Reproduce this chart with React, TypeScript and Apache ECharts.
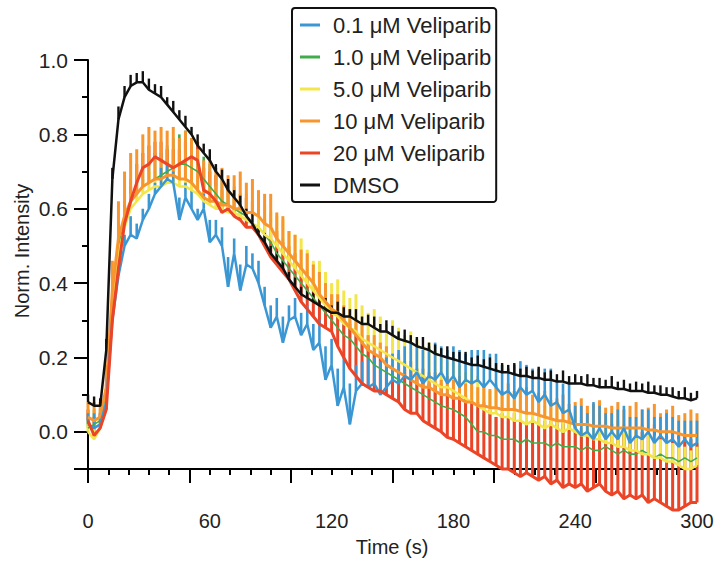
import React, { useEffect, useRef } from "react";
import * as echarts from "echarts";

const FONT = "'Liberation Sans', Arial, Helvetica, sans-serif";

// Time (s)
const times = [
  0, 3, 6, 9, 12, 15, 18, 21, 24, 27, 30, 33, 36, 39, 42, 45, 48, 51, 54, 57,
  60, 63, 66, 69, 72, 75, 78, 81, 84, 87, 90, 93, 96, 99, 102, 105, 108, 111, 114, 117,
  120, 123, 126, 129, 132, 135, 138, 141, 144, 147, 150, 153, 156, 159, 162, 165, 168, 171, 174, 177,
  180, 183, 186, 189, 192, 195, 198, 201, 204, 207, 210, 213, 216, 219, 222, 225, 228, 231, 234, 237,
  240, 243, 246, 249, 252, 255, 258, 261, 264, 267, 270, 273, 276, 279, 282, 285, 288, 291, 294, 297, 300,
];

const xTickMajor = [0, 50, 100, 150, 200, 250, 300];
const xTickMinor = [10, 20, 30, 40, 60, 70, 80, 90, 110, 120, 130, 140, 160, 170, 180, 190, 210, 220, 230, 240, 260, 270, 280, 290];
const xLabels = [0, 60, 120, 180, 240, 300];
const yTickMajor = [-0.1, 0, 0.2, 0.4, 0.6, 0.8, 1.0];
const yTickMinor = [0.1, 0.3, 0.5, 0.7, 0.9];
const yLabels = [0, 0.2, 0.4, 0.6, 0.8, 1.0];

const names = ["0.1 \u03bcM Veliparib", "1.0 \u03bcM Veliparib", "5.0 \u03bcM Veliparib", "10 \u03bcM Veliparib", "20 \u03bcM Veliparib", "DMSO"];

const blue = [
  0.02, 0.01, 0.02, 0.08, 0.30, 0.42, 0.50, 0.53, 0.52, 0.57,
  0.60, 0.64, 0.66, 0.68, 0.67, 0.57, 0.63, 0.60, 0.57, 0.60,
  0.51, 0.53, 0.50, 0.39, 0.48, 0.38, 0.45, 0.44, 0.40, 0.34,
  0.28, 0.31, 0.24, 0.30, 0.31, 0.26, 0.29, 0.22, 0.24, 0.14,
  0.18, 0.07, 0.12, 0.02, 0.11, 0.13, 0.12, 0.13, 0.10, 0.12,
  0.14, 0.13, 0.15, 0.14, 0.16, 0.13, 0.15, 0.14, 0.16, 0.13,
  0.15, 0.12, 0.14, 0.13, 0.14, 0.12, 0.14, 0.12, 0.10, 0.11,
  0.09, 0.12, 0.10, 0.11, 0.08, 0.10, 0.07, 0.08, 0.05, 0.06,
  0.01, -0.01, 0.00, -0.02, 0.01, -0.02, 0.00, -0.02, 0.01, -0.03,
  -0.01, -0.02, 0.00, -0.03, -0.01, -0.03, -0.02, -0.04, -0.02, -0.04,
  -0.03,
];
const blueErr = [
  0.03, 0.04, 0.03, 0.04, 0.05, 0.04, 0.03, 0.05, 0.04, 0.03,
  0.04, 0.03, 0.05, 0.04, 0.03, 0.06, 0.04, 0.05, 0.03, 0.04,
  0.06, 0.04, 0.05, 0.08, 0.04, 0.07, 0.05, 0.04, 0.06, 0.05,
  0.06, 0.05, 0.07, 0.04, 0.05, 0.06, 0.05, 0.07, 0.06, 0.09,
  0.07, 0.10, 0.08, 0.11, 0.07, 0.06, 0.08, 0.07, 0.09, 0.08,
  0.07, 0.09, 0.08, 0.10, 0.07, 0.09, 0.08, 0.10, 0.07, 0.09,
  0.08, 0.10, 0.07, 0.09, 0.08, 0.10, 0.07, 0.09, 0.08, 0.06,
  0.09, 0.07, 0.08, 0.06, 0.09, 0.07, 0.10, 0.06, 0.08, 0.07,
  0.06, 0.08, 0.05, 0.10, 0.06, 0.07, 0.05, 0.08, 0.06, 0.07,
  0.05, 0.08, 0.06, 0.07, 0.05, 0.08, 0.06, 0.07, 0.05, 0.07,
  0.06,
];

const green = [
  0.01, 0.02, 0.03, 0.10, 0.35, 0.50, 0.57, 0.62, 0.64, 0.66,
  0.67, 0.68, 0.69, 0.70, 0.71, 0.72, 0.72, 0.71, 0.70, 0.68,
  0.66, 0.64, 0.62, 0.61, 0.60, 0.59, 0.58, 0.56, 0.55, 0.53,
  0.51, 0.48, 0.46, 0.44, 0.42, 0.40, 0.38, 0.36, 0.34, 0.32,
  0.30, 0.28, 0.26, 0.25, 0.23, 0.21, 0.20, 0.18, 0.17, 0.16,
  0.15, 0.14, 0.13, 0.12, 0.11, 0.10, 0.09, 0.08, 0.07, 0.065,
  0.06, 0.05, 0.04, 0.02, 0.00, 0.00, -0.01, -0.01, -0.02, -0.02,
  -0.02, -0.03, -0.02, -0.03, -0.03, -0.03, -0.04, -0.03, -0.04, -0.04,
  -0.04, -0.05, -0.04, -0.05, -0.05, -0.04, -0.05, -0.06, -0.05, -0.06,
  -0.06, -0.05, -0.06, -0.07, -0.06, -0.07, -0.07, -0.08, -0.07, -0.08,
  -0.07,
];
const greenErr = [
  0.03, 0.04, 0.03, 0.05, 0.05, 0.06, 0.05, 0.06, 0.05, 0.06,
  0.06, 0.07, 0.06, 0.07, 0.08, 0.08, 0.09, 0.08, 0.07, 0.06,
  0.06, 0.05, 0.06, 0.05, 0.06, 0.05, 0.06, 0.05, 0.06, 0.05,
  0.06, 0.05, 0.06, 0.05, 0.06, 0.05, 0.06, 0.05, 0.06, 0.05,
  0.06, 0.05, 0.06, 0.05, 0.06, 0.05, 0.06, 0.05, 0.06, 0.05,
  0.06, 0.05, 0.06, 0.05, 0.06, 0.05, 0.06, 0.05, 0.06, 0.05,
  0.06, 0.05, 0.06, 0.05, 0.06, 0.05, 0.06, 0.05, 0.06, 0.05,
  0.06, 0.05, 0.06, 0.05, 0.06, 0.05, 0.06, 0.05, 0.06, 0.05,
  0.06, 0.05, 0.06, 0.05, 0.06, 0.05, 0.06, 0.05, 0.06, 0.07,
  0.06, 0.07, 0.06, 0.07, 0.06, 0.07, 0.06, 0.07, 0.06, 0.07,
  0.06,
];

const yellow = [
  0.00, -0.02, 0.01, 0.08, 0.33, 0.48, 0.55, 0.60, 0.62, 0.64,
  0.65, 0.66, 0.66, 0.67, 0.67, 0.66, 0.66, 0.65, 0.64, 0.62,
  0.61, 0.60, 0.60, 0.59, 0.59, 0.58, 0.57, 0.56, 0.55, 0.53,
  0.52, 0.50, 0.48, 0.46, 0.44, 0.42, 0.40, 0.38, 0.36, 0.34,
  0.32, 0.31, 0.29, 0.28, 0.27, 0.25, 0.24, 0.23, 0.22, 0.21,
  0.20, 0.19, 0.18, 0.17, 0.16, 0.15, 0.14, 0.13, 0.12, 0.12,
  0.11, 0.10, 0.09, 0.08, 0.07, 0.06, 0.05, 0.05, 0.04, 0.04,
  0.03, 0.03, 0.02, 0.03, 0.02, 0.01, 0.02, 0.01, 0.00, 0.01,
  0.00, -0.01, -0.01, -0.02, -0.02, -0.03, -0.03, -0.04, -0.04, -0.05,
  -0.05, -0.06, -0.06, -0.07, -0.07, -0.08, -0.08, -0.09, -0.10, -0.10,
  -0.09,
];
const yellowErr = [
  0.03, 0.04, 0.03, 0.04, 0.05, 0.04, 0.05, 0.04, 0.05, 0.04,
  0.05, 0.04, 0.05, 0.04, 0.05, 0.04, 0.05, 0.04, 0.05, 0.04,
  0.05, 0.06, 0.05, 0.06, 0.05, 0.06, 0.07, 0.06, 0.07, 0.08,
  0.07, 0.08, 0.09, 0.08, 0.09, 0.10, 0.09, 0.08, 0.10, 0.09,
  0.08, 0.10, 0.09, 0.08, 0.10, 0.09, 0.08, 0.10, 0.09, 0.08,
  0.10, 0.09, 0.08, 0.10, 0.09, 0.08, 0.10, 0.09, 0.08, 0.07,
  0.09, 0.08, 0.07, 0.09, 0.08, 0.07, 0.06, 0.08, 0.07, 0.06,
  0.08, 0.07, 0.06, 0.05, 0.07, 0.06, 0.05, 0.07, 0.06, 0.05,
  0.06, 0.05, 0.07, 0.06, 0.05, 0.06, 0.05, 0.07, 0.06, 0.05,
  0.06, 0.05, 0.07, 0.06, 0.05, 0.06, 0.05, 0.07, 0.06, 0.05,
  0.05,
];

const orange = [
  0.04, 0.03, 0.04, 0.12, 0.38, 0.52, 0.58, 0.62, 0.64, 0.66,
  0.67, 0.68, 0.68, 0.69, 0.69, 0.68, 0.68, 0.67, 0.65, 0.63,
  0.62, 0.62, 0.61, 0.61, 0.60, 0.60, 0.59, 0.59, 0.58, 0.56,
  0.55, 0.52, 0.50, 0.48, 0.46, 0.44, 0.42, 0.40, 0.37, 0.35,
  0.33, 0.32, 0.30, 0.28, 0.26, 0.24, 0.22, 0.21, 0.20, 0.18,
  0.17, 0.16, 0.15, 0.14, 0.13, 0.12, 0.12, 0.11, 0.10, 0.10,
  0.09, 0.09, 0.08, 0.08, 0.07, 0.07, 0.065, 0.065, 0.06, 0.06,
  0.06, 0.055, 0.05, 0.05, 0.045, 0.04, 0.035, 0.03, 0.03, 0.025,
  0.02, 0.02, 0.02, 0.015, 0.015, 0.015, 0.01, 0.01, 0.01, 0.01,
  0.01, 0.01, 0.005, 0.005, 0.00, 0.00, 0.00, -0.005, -0.01, -0.01,
  -0.01,
];
const orangeErr = [
  0.04, 0.05, 0.04, 0.06, 0.08, 0.10, 0.12, 0.13, 0.12, 0.14,
  0.15, 0.13, 0.14, 0.12, 0.13, 0.11, 0.13, 0.12, 0.11, 0.10,
  0.11, 0.09, 0.10, 0.08, 0.09, 0.10, 0.08, 0.09, 0.07, 0.08,
  0.09, 0.07, 0.08, 0.06, 0.07, 0.05, 0.06, 0.05, 0.06, 0.05,
  0.04, 0.05, 0.04, 0.05, 0.04, 0.05, 0.04, 0.05, 0.04, 0.05,
  0.04, 0.05, 0.04, 0.05, 0.04, 0.05, 0.04, 0.05, 0.04, 0.05,
  0.05, 0.06, 0.05, 0.06, 0.05, 0.06, 0.05, 0.06, 0.05, 0.07,
  0.05, 0.06, 0.07, 0.05, 0.06, 0.07, 0.05, 0.06, 0.07, 0.05,
  0.06, 0.07, 0.05, 0.06, 0.07, 0.05, 0.06, 0.07, 0.05, 0.06,
  0.07, 0.05, 0.06, 0.07, 0.05, 0.06, 0.07, 0.05, 0.06, 0.07,
  0.06,
];

const red = [
  0.03, -0.01, 0.01, 0.06, 0.30, 0.44, 0.56, 0.62, 0.67, 0.71,
  0.72, 0.74, 0.73, 0.72, 0.71, 0.72, 0.73, 0.74, 0.73, 0.65,
  0.64, 0.62, 0.59, 0.60, 0.58, 0.57, 0.55, 0.55, 0.53, 0.50,
  0.47, 0.45, 0.43, 0.41, 0.38, 0.35, 0.33, 0.31, 0.29, 0.28,
  0.27, 0.23, 0.20, 0.17, 0.15, 0.13, 0.12, 0.11, 0.11, 0.10,
  0.09, 0.08, 0.06, 0.05, 0.05, 0.03, 0.02, 0.01, 0.00, -0.015,
  -0.02, -0.03, -0.04, -0.05, -0.06, -0.07, -0.08, -0.09, -0.10, -0.10,
  -0.11, -0.12, -0.11, -0.12, -0.13, -0.12, -0.14, -0.13, -0.15, -0.14,
  -0.15, -0.14, -0.16, -0.15, -0.14, -0.16, -0.17, -0.16, -0.18, -0.17,
  -0.18, -0.17, -0.19, -0.18, -0.19, -0.20, -0.21, -0.21, -0.20, -0.19,
  -0.19,
];
const redErr = [
  0.03, 0.05, 0.04, 0.04, 0.05, 0.04, 0.05, 0.04, 0.05, 0.04,
  0.05, 0.04, 0.05, 0.04, 0.05, 0.04, 0.05, 0.04, 0.05, 0.06,
  0.06, 0.07, 0.06, 0.07, 0.06, 0.07, 0.08, 0.07, 0.08, 0.07,
  0.08, 0.09, 0.08, 0.09, 0.10, 0.09, 0.10, 0.09, 0.10, 0.11,
  0.10, 0.12, 0.11, 0.12, 0.11, 0.12, 0.11, 0.10, 0.12, 0.10,
  0.11, 0.12, 0.11, 0.12, 0.10, 0.12, 0.11, 0.12, 0.13, 0.12,
  0.13, 0.12, 0.14, 0.13, 0.14, 0.15, 0.14, 0.13, 0.15, 0.14,
  0.16, 0.15, 0.14, 0.16, 0.17, 0.15, 0.17, 0.16, 0.18, 0.16,
  0.17, 0.15, 0.18, 0.16, 0.14, 0.17, 0.19, 0.17, 0.18, 0.16,
  0.19, 0.17, 0.18, 0.20, 0.18, 0.19, 0.21, 0.20, 0.19, 0.17,
  0.16,
];

const dmso = [
  0.08, 0.07, 0.07, 0.22, 0.68, 0.84, 0.90, 0.93, 0.94, 0.94,
  0.92, 0.91, 0.90, 0.88, 0.86, 0.84, 0.82, 0.80, 0.77, 0.75,
  0.73, 0.70, 0.68, 0.65, 0.63, 0.61, 0.58, 0.56, 0.53, 0.51,
  0.48, 0.46, 0.44, 0.41, 0.39, 0.37, 0.36, 0.35, 0.34, 0.33,
  0.32, 0.32, 0.31, 0.31, 0.30, 0.29, 0.29, 0.28, 0.27, 0.27,
  0.26, 0.25, 0.245, 0.24, 0.23, 0.225, 0.22, 0.21, 0.205, 0.20,
  0.195, 0.19, 0.185, 0.18, 0.18, 0.175, 0.17, 0.165, 0.16, 0.16,
  0.155, 0.15, 0.15, 0.145, 0.145, 0.14, 0.14, 0.135, 0.135, 0.13,
  0.13, 0.13, 0.125, 0.125, 0.12, 0.12, 0.12, 0.115, 0.115, 0.11,
  0.11, 0.11, 0.105, 0.105, 0.10, 0.10, 0.095, 0.09, 0.09, 0.085,
  0.09,
];
const dmsoErr = [
  0.02, 0.025, 0.02, 0.03, 0.03, 0.035, 0.03, 0.03, 0.025, 0.03,
  0.03, 0.025, 0.03, 0.02, 0.03, 0.025, 0.03, 0.02, 0.03, 0.025,
  0.03, 0.02, 0.025, 0.03, 0.02, 0.025, 0.02, 0.03, 0.02, 0.025,
  0.02, 0.025, 0.02, 0.02, 0.025, 0.02, 0.02, 0.025, 0.02, 0.03,
  0.02, 0.03, 0.025, 0.02, 0.03, 0.02, 0.025, 0.03, 0.02, 0.03,
  0.025, 0.02, 0.03, 0.02, 0.025, 0.03, 0.02, 0.025, 0.02, 0.03,
  0.02, 0.025, 0.03, 0.02, 0.025, 0.02, 0.03, 0.02, 0.025, 0.02,
  0.03, 0.02, 0.025, 0.02, 0.03, 0.02, 0.025, 0.02, 0.03, 0.02,
  0.025, 0.02, 0.03, 0.02, 0.025, 0.02, 0.03, 0.02, 0.025, 0.02,
  0.025, 0.02, 0.03, 0.02, 0.025, 0.02, 0.025, 0.02, 0.03, 0.02,
  0.02,
];

const colors = {
  blue: "#3b97d3",
  green: "#40ad4a",
  yellow: "#f2e64b",
  orange: "#f7962f",
  red: "#eb4426",
  black: "#111111",
};

type SeriesDef = { name: string; color: string; mean: number[]; err: number[]; width: number };

const defs: Record<string, SeriesDef> = {
  blue: { name: names[0], color: colors.blue, mean: blue, err: blueErr, width: 2.5 },
  green: { name: names[1], color: colors.green, mean: green, err: greenErr, width: 1.6 },
  yellow: { name: names[2], color: colors.yellow, mean: yellow, err: yellowErr, width: 2.5 },
  orange: { name: names[3], color: colors.orange, mean: orange, err: orangeErr, width: 3 },
  red: { name: names[4], color: colors.red, mean: red, err: redErr, width: 3 },
  black: { name: names[5], color: colors.black, mean: dmso, err: dmsoErr, width: 2.5 },
};

function errSeries(s: SeriesDef, barWidth: number) {
  return {
    type: "custom",
    name: s.name + " err",
    silent: true,
    clip: false,
    data: times.map((t, i) => [t, s.mean[i], s.err[i]]),
    encode: { x: 0, y: 1 },
    renderItem: (_params: any, api: any) => {
      const x = api.value(0);
      const y = api.value(1);
      const e = api.value(2);
      const p1 = api.coord([x, y]);
      const p2 = api.coord([x, y + e]);
      return {
        type: "line",
        shape: { x1: p1[0], y1: p1[1], x2: p2[0], y2: p2[1] },
        style: { stroke: s.color, lineWidth: barWidth },
      };
    },
  };
}

function lineSeries(s: SeriesDef) {
  return {
    type: "line",
    name: s.name,
    data: times.map((t, i) => [t, s.mean[i]]),
    symbol: "none",
    showSymbol: false,
    clip: false,
    lineStyle: { color: s.color, width: s.width },
    itemStyle: { color: s.color },
  };
}

const tickLine = { color: "#000", width: 2 };

export default function App() {
  const ref = useRef<HTMLDivElement>(null);
  useEffect(() => {
    const chart = echarts.init(ref.current!, null, { renderer: "svg" });
    chart.setOption({
      animation: false,
      backgroundColor: "#fff",
      grid: { left: 88, right: 20, top: 60, bottom: 92, containLabel: false, outerBoundsMode: "none" },
      xAxis: [
        {
          type: "value",
          min: 0,
          max: 300,
          position: "bottom",
          axisLine: { show: true, onZero: false, lineStyle: tickLine },
          axisTick: { show: true, customValues: xTickMajor, length: 14, lineStyle: tickLine },
          axisLabel: { customValues: xLabels, margin: 42, fontSize: 20, color: "#222", fontFamily: FONT },
          splitLine: { show: false },
        },
        {
          type: "value",
          min: 0,
          max: 300,
          position: "bottom",
          axisLine: { show: false, onZero: false },
          axisTick: { show: true, customValues: xTickMinor, length: 6, lineStyle: tickLine },
          axisLabel: { show: false },
          splitLine: { show: false },
        },
      ],
      yAxis: [
        {
          type: "value",
          min: -0.1,
          max: 1.0,
          position: "left",
          axisLine: { show: true, onZero: false, lineStyle: tickLine },
          axisTick: { show: true, customValues: yTickMajor, length: 14, lineStyle: tickLine },
          axisLabel: {
            customValues: yLabels,
            formatter: (v: number) => v.toFixed(1),
            margin: 20,
            fontSize: 21,
            color: "#222",
            fontFamily: FONT,
          },
          splitLine: { show: false },
        },
        {
          type: "value",
          min: -0.1,
          max: 1.0,
          position: "left",
          offset: 0,
          axisLine: { show: false, onZero: false },
          axisTick: { show: true, customValues: yTickMinor, length: 6, lineStyle: tickLine },
          axisLabel: { show: false },
          splitLine: { show: false },
        },
      ],
      legend: {
        data: names,
        orient: "vertical",
        left: 292,
        top: 8,
        icon: "rect",
        itemWidth: 20,
        itemHeight: 3,
        itemGap: 10,
        padding: [6, 5, 6, 8],
        borderColor: "#111",
        borderWidth: 2,
        borderRadius: 3,
        backgroundColor: "#fff",
        selectedMode: false,
        textStyle: { fontSize: 22, color: "#222", fontFamily: FONT, padding: [0, 0, 0, 8] },
      },
      graphic: [
        {
          type: "text",
          x: 22,
          y: 251,
          rotation: Math.PI / 2,
          style: {
            text: "Norm. Intensity",
            fontSize: 20,
            fontFamily: FONT,
            fill: "#222",
            align: "center",
            verticalAlign: "middle",
          },
        },
        {
          type: "text",
          x: 392,
          y: 547,
          style: {
            text: "Time (s)",
            fontSize: 20,
            fontFamily: FONT,
            fill: "#222",
            align: "center",
            verticalAlign: "middle",
          },
        },
      ],
      series: [
        errSeries(defs.green, 2.6),
        lineSeries(defs.green),
        errSeries(defs.red, 3),
        errSeries(defs.yellow, 3),
        errSeries(defs.orange, 3),
        errSeries(defs.blue, 2.6),
        lineSeries(defs.yellow),
        lineSeries(defs.orange),
        lineSeries(defs.blue),
        lineSeries(defs.red),
        errSeries(defs.black, 2.4),
        lineSeries(defs.black),
      ],
    });
    return () => chart.dispose();
  }, []);
  return <div ref={ref} style={{ position: "fixed", left: 0, top: 0, width: 717, height: 561 }} />;
}
